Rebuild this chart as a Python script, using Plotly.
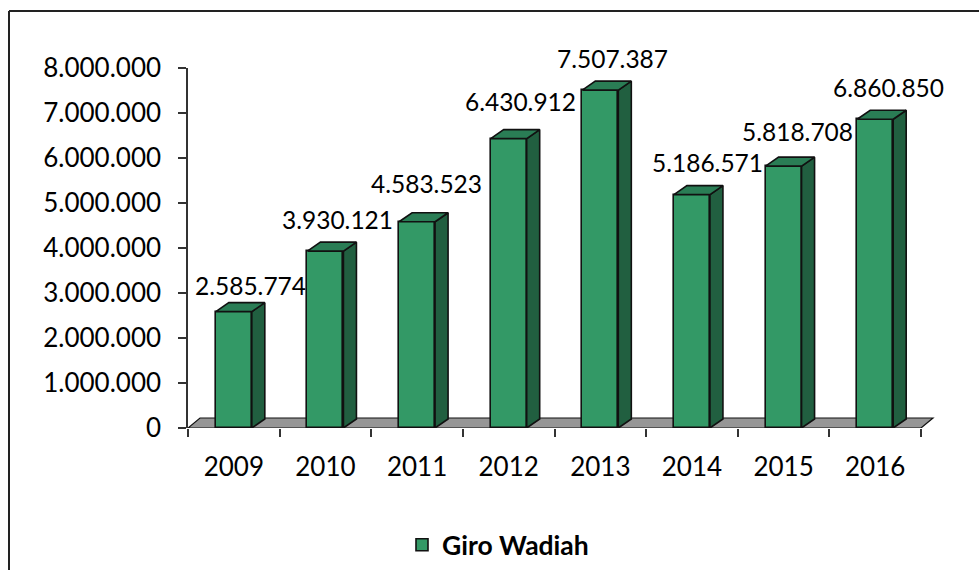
import plotly.graph_objects as go

# ---- data ----
years = ["2009", "2010", "2011", "2012", "2013", "2014", "2015", "2016"]
giro_wadiah = [2585774, 3930121, 4583523, 6430912, 7507387, 5186571, 5818708, 6860850]
y_ticks = [0, 1000000, 2000000, 3000000, 4000000, 5000000, 6000000, 7000000, 8000000]
series_name = "Giro Wadiah"

# ---- layout constants ----
W, H = 979, 570
ML, MR, MT, MB = 188, 40, 68, 142
PX_PER_CAT = 91.625
Y_MAX = 8000000
PLOT_W = W - ML - MR
PLOT_H = H - MT - MB
PX_PER_VAL = PLOT_H / Y_MAX
X_MIN = -0.5
X_MAX = X_MIN + PLOT_W / PX_PER_CAT

BAR_W = 0.393
DEPTH_DX = 13 / PX_PER_CAT          # bar depth, horizontal (data units)
DEPTH_DY = 9 / PX_PER_VAL           # bar depth, vertical (data units)
FLOOR_DX = 12 / PX_PER_CAT
FLOOR_DY = 10 / PX_PER_VAL

FRONT = "#339966"
TOP = "#2a7d55"
SIDE = "#215f40"
EDGE = "#111111"
FLOOR = "#969696"
FONT = "Lato"

# label offsets relative to bar centre / top (pixels)
LABEL_DX = [17, 12, 9, 12, 12, 16, 14, 13]
LABEL_DY = [26, 32, 38, 37, 32, 32, 35, 32]

xs = list(range(len(years)))

fig = go.Figure()

# front faces
fig.add_trace(go.Bar(
    x=xs, y=giro_wadiah, width=BAR_W, name=series_name,
    marker=dict(color=FRONT, line=dict(color=EDGE, width=1.6)),
    showlegend=True, hoverinfo="skip",
))

# side and top faces
for x, v in zip(xs, giro_wadiah):
    r = x + BAR_W / 2
    l = x - BAR_W / 2
    fig.add_trace(go.Scatter(
        x=[r, r + DEPTH_DX, r + DEPTH_DX, r, r],
        y=[0, DEPTH_DY, v + DEPTH_DY, v, 0],
        mode="lines", fill="toself", fillcolor=SIDE,
        line=dict(color=EDGE, width=1.6), showlegend=False, hoverinfo="skip",
    ))
    fig.add_trace(go.Scatter(
        x=[l, l + DEPTH_DX, r + DEPTH_DX, r, l],
        y=[v, v + DEPTH_DY, v + DEPTH_DY, v, v],
        mode="lines", fill="toself", fillcolor=TOP,
        line=dict(color=EDGE, width=1.6), showlegend=False, hoverinfo="skip",
    ))

# floor
x_end = len(years) - 0.5
fig.add_shape(
    type="path", xref="x", yref="y", layer="below",
    path=(f"M {X_MIN},0 L {x_end},0 L {x_end + FLOOR_DX},{FLOOR_DY} "
          f"L {X_MIN + FLOOR_DX},{FLOOR_DY} Z"),
    fillcolor=FLOOR, line=dict(color=EDGE, width=1.2),
)

# data labels
for x, v, dx, dy in zip(xs, giro_wadiah, LABEL_DX, LABEL_DY):
    fig.add_annotation(
        x=x, y=v, xref="x", yref="y", text=f"{v:,}".replace(",", "."),
        showarrow=False, xanchor="center", yanchor="middle",
        xshift=dx, yshift=dy, font=dict(family=FONT, size=24.5, color="black"),
    )

# outer frame (left and top edges)
px2paper_x = lambda px: (px - ML) / PLOT_W
px2paper_y = lambda py: (H - MB - py) / PLOT_H
fig.add_shape(type="line", xref="paper", yref="paper",
              x0=px2paper_x(9), x1=px2paper_x(9), y0=px2paper_y(11), y1=px2paper_y(575),
              line=dict(color="#222222", width=2))
fig.add_shape(type="line", xref="paper", yref="paper",
              x0=px2paper_x(9), x1=px2paper_x(985), y0=px2paper_y(11), y1=px2paper_y(11),
              line=dict(color="#222222", width=2))

fig.update_layout(
    width=W, height=H,
    margin=dict(l=ML, r=MR, t=MT, b=MB, pad=0),
    paper_bgcolor="white", plot_bgcolor="white",
    separators=",.",
    font=dict(family=FONT, size=24, color="black"),
    bargap=0,
    legend=dict(
        orientation="h", xref="container", yref="container",
        x=402 / W, xanchor="left", y=1 - 545 / H, yanchor="middle",
        font=dict(family=FONT, size=26.5, color="black", weight="bold"),
        itemwidth=30, bgcolor="rgba(0,0,0,0)",
    ),
    xaxis=dict(
        range=[X_MIN, X_MAX], tickmode="array", tickvals=xs, ticktext=years,
        ticks="", showline=False, showgrid=False, zeroline=False,
        ticklabelstandoff=21,
        tickfont=dict(family=FONT, size=26, color="black"),
        minor=dict(tickmode="linear", tick0=-0.5, dtick=1, ticks="outside",
                   ticklen=8, tickwidth=1.5, tickcolor="#333333", showgrid=False),
    ),
    yaxis=dict(
        range=[0, Y_MAX], tickmode="array", tickvals=y_ticks, tickformat=",d",
        ticks="outside", ticklen=8, tickwidth=1.5, tickcolor="#333333",
        showline=True, linecolor="#333333", linewidth=1.5,
        showgrid=False, zeroline=False, ticklabelstandoff=12,
        tickfont=dict(family=FONT, size=26, color="black"),
    ),
)

fig.write_html("out.html")
